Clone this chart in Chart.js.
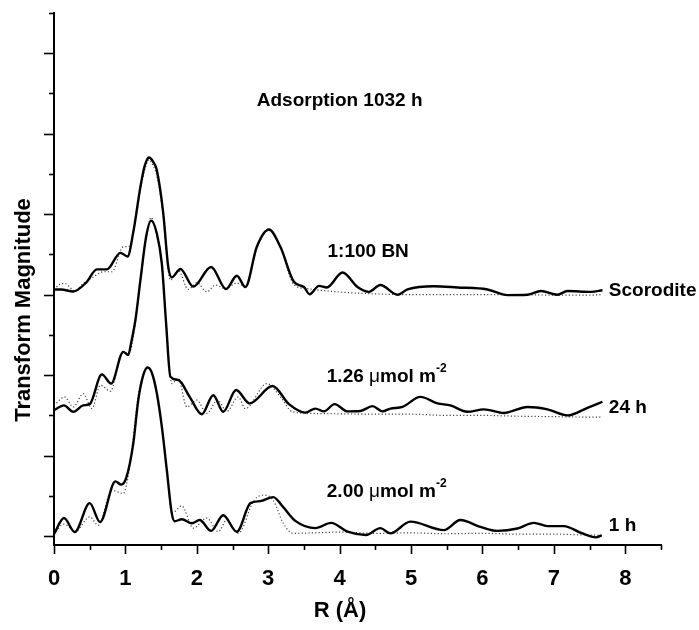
<!DOCTYPE html>
<html>
<head>
<meta charset="utf-8">
<script src="https://cdn.jsdelivr.net/npm/chart.js@4.4.1/dist/chart.umd.min.js"></script>
<style>
  body { margin: 0; background: #fff; }
</style>
</head>
<body>
<canvas id="grafico-ft" width="699" height="630"></canvas>
<script>
// R (Å) and stacked transform magnitude
const rScor   = [0, 0.1, 0.27, 0.45, 0.6, 0.74, 0.93, 1.03, 1.11, 1.21, 1.27, 1.33, 1.39, 1.44, 1.53, 1.6, 1.65, 1.77, 1.95, 2.2, 2.41, 2.56, 2.68, 2.84, 3.01, 3.17, 3.36, 3.5, 3.58, 3.71, 3.82, 4.04, 4.25, 4.41, 4.57, 4.81, 4.95, 5.32, 5.65, 6.07, 6.35, 6.63, 6.82, 7.05, 7.19, 7.52, 7.68];
const magScor = [6.13, 6.13, 6.08, 6.3, 6.63, 6.63, 7.04, 6.95, 7.55, 8.68, 9.2, 9.41, 9.3, 9.09, 8.02, 6.69, 6.43, 6.64, 6.2, 6.69, 6.14, 6.47, 6.19, 7.19, 7.62, 7.19, 6.32, 6.19, 6.01, 6.22, 6.18, 6.55, 6.19, 6.07, 6.24, 6.0, 6.13, 6.21, 6.18, 6.13, 5.99, 6.0, 6.09, 6.0, 6.09, 6.07, 6.11];
const rScorFit   = [0, 0.08, 0.15, 0.29, 0.41, 0.55, 0.69, 0.81, 0.97, 1.05, 1.11, 1.21, 1.27, 1.33, 1.39, 1.44, 1.53, 1.6, 1.63, 1.74, 1.88, 2.0, 2.14, 2.26, 2.4, 2.56, 2.68, 2.84, 3.01, 3.17, 3.36, 3.54, 3.97, 4.5, 5.0, 5.5, 6.0, 6.5, 7.0, 7.5, 7.68];
const fitScor    = [6.13, 6.26, 6.28, 6.1, 6.28, 6.44, 6.57, 6.57, 7.19, 7.2, 7.55, 8.6, 9.1, 9.35, 9.2, 8.95, 7.95, 6.6, 6.36, 6.61, 6.13, 6.3, 6.07, 6.24, 6.15, 6.29, 6.2, 7.15, 7.6, 7.17, 6.25, 6.15, 6.07, 6.02, 6.0, 6.0, 6.0, 6.0, 5.99, 5.99, 6.0];

const r24h   = [0, 0.14, 0.27, 0.41, 0.5, 0.67, 0.8, 0.97, 1.04, 1.08, 1.14, 1.21, 1.29, 1.36, 1.44, 1.51, 1.57, 1.63, 1.74, 1.9, 2.07, 2.23, 2.37, 2.55, 2.74, 3.06, 3.29, 3.52, 3.66, 3.78, 3.93, 4.11, 4.29, 4.46, 4.6, 4.71, 4.88, 5.13, 5.37, 5.55, 5.79, 6.02, 6.3, 6.63, 6.91, 7.19, 7.47, 7.68];
const mag24h = [3.13, 3.25, 3.09, 3.25, 3.28, 4.02, 3.79, 4.58, 4.5, 4.8, 5.37, 6.36, 7.44, 7.84, 7.52, 6.77, 5.28, 3.96, 3.88, 3.46, 3.03, 3.5, 3.09, 3.63, 3.3, 3.73, 3.28, 3.07, 3.17, 3.1, 3.28, 3.1, 3.11, 3.23, 3.1, 3.17, 3.21, 3.46, 3.3, 3.25, 3.09, 3.15, 3.06, 3.21, 3.15, 3.0, 3.19, 3.34];
const r24hFit = [0, 0.15, 0.27, 0.41, 0.53, 0.65, 0.79, 0.95, 1.05, 1.14, 1.21, 1.29, 1.36, 1.43, 1.51, 1.57, 1.65, 1.74, 1.86, 2.0, 2.14, 2.29, 2.42, 2.58, 2.68, 2.98, 3.18, 3.33, 3.6, 4.0, 4.5, 5.0, 5.5, 6.0, 6.5, 7.0, 7.4, 7.68];
const fit24h  = [3.25, 3.46, 3.21, 3.54, 3.17, 3.75, 3.6, 4.54, 4.55, 5.3, 6.4, 7.4, 7.92, 7.55, 6.8, 5.3, 3.79, 3.92, 3.21, 3.38, 3.05, 3.38, 3.1, 3.46, 3.17, 3.79, 3.44, 3.1, 3.05, 3.04, 3.03, 3.03, 3.0, 3.0, 2.98, 2.97, 2.96, 2.96];

const r1h   = [0, 0.14, 0.29, 0.5, 0.645, 0.86, 0.94, 1.01, 1.11, 1.18, 1.25, 1.31, 1.37, 1.44, 1.51, 1.58, 1.65, 1.69, 1.79, 1.93, 2.04, 2.2, 2.37, 2.56, 2.75, 2.89, 3.07, 3.21, 3.38, 3.66, 3.88, 4.11, 4.37, 4.57, 4.71, 4.99, 5.46, 5.69, 5.97, 6.21, 6.49, 6.72, 6.91, 7.14, 7.38, 7.59, 7.67];
const mag1h = [0.05, 0.45, 0.1, 0.82, 0.35, 1.36, 1.28, 1.44, 2.3, 3.38, 4.0, 4.19, 4.06, 3.55, 2.72, 1.64, 0.56, 0.37, 0.42, 0.32, 0.4, 0.13, 0.52, 0.11, 0.82, 0.87, 0.97, 0.72, 0.38, 0.2, 0.33, 0.11, 0.03, 0.2, 0.07, 0.36, 0.15, 0.4, 0.23, 0.13, 0.19, 0.33, 0.25, 0.25, 0.08, -0.03, 0.02];
const r1hFit = [0, 0.14, 0.3, 0.5, 0.62, 0.81, 0.97, 1.07, 1.18, 1.25, 1.31, 1.37, 1.44, 1.51, 1.58, 1.65, 1.79, 1.95, 2.14, 2.3, 2.42, 2.58, 2.8, 2.94, 3.07, 3.21, 3.35, 3.6, 4.0, 4.5, 5.0, 5.5, 6.0, 6.5, 7.0, 7.4, 7.67];
const fit1h  = [0.05, 0.3, 0.12, 0.48, 0.27, 1.14, 1.06, 1.85, 3.5, 4.0, 4.2, 4.06, 3.55, 2.72, 1.64, 0.57, 0.75, 0.2, 0.45, 0.11, 0.4, 0.07, 0.89, 1.02, 0.89, 0.32, 0.07, 0.08, 0.1, 0.07, 0.08, 0.06, 0.07, 0.05, 0.05, 0.03, 0.02];

const FONT = '"Liberation Sans", Arial, Helvetica, sans-serif';

function pts(rs, vs) {
  return rs.map((r, i) => ({ x: r, y: vs[i] }));
}

function solid(rs, vs) {
  return { data: pts(rs, vs), borderColor: '#000', borderWidth: 2.4, pointRadius: 0, cubicInterpolationMode: 'monotone', order: 1 };
}
function dotted(rs, vs) {
  return { data: pts(rs, vs), borderColor: '#444', borderWidth: 1.2, borderDash: [1.2, 2.2], pointRadius: 0, cubicInterpolationMode: 'monotone', order: 2 };
}

// text labels placed in data units (R, magnitude)
const notas = [
  { parts: [['Adsorption 1032 h']], x: 4.0, y: 10.81, align: 'center' },
  { parts: [['1:100 BN']], x: 3.83, y: 7.06 },
  { parts: [['1.26 '], ['\u03bc', 'normal'], ['mol m'], ['-2', 'sup']], x: 3.82, y: 3.97 },
  { parts: [['2.00 '], ['\u03bc', 'normal'], ['mol m'], ['-2', 'sup']], x: 3.82, y: 1.1 },
  { parts: [['Scorodite']], x: 7.77, y: 6.11 },
  { parts: [['24 h']], x: 7.77, y: 3.18 },
  { parts: [['1 h']], x: 7.77, y: 0.27 }
];

const eixos = {
  id: 'eixos',
  afterDraw(chart) {
    const { ctx, chartArea, scales } = chart;
    const sx = scales.x, sy = scales.y;
    ctx.save();
    ctx.strokeStyle = '#000';
    ctx.lineWidth = 1.6;
    // y ticks
    for (let v = 0; v <= 13; v++) {
      const py = Math.round(sy.getPixelForValue(v)) + 0.5;
      const len = v % 2 === 0 ? 10 : 5;
      ctx.beginPath();
      ctx.moveTo(chartArea.left, py);
      ctx.lineTo(chartArea.left - len, py);
      ctx.stroke();
    }
    // x ticks
    for (let k = 0; k <= 17; k++) {
      const v = k / 2;
      const px = Math.round(sx.getPixelForValue(v)) + 0.5;
      const len = k % 2 === 0 ? 9 : 5;
      ctx.beginPath();
      ctx.moveTo(px, chartArea.bottom);
      ctx.lineTo(px, chartArea.bottom + len);
      ctx.stroke();
    }

    ctx.fillStyle = '#000';
    ctx.textBaseline = 'middle';
    // axis titles
    ctx.font = 'bold 22px ' + FONT;
    ctx.textAlign = 'center';
    ctx.fillText('R (\u00c5)', 340, 611);
    ctx.save();
    ctx.translate(24, 310);
    ctx.rotate(-Math.PI / 2);
    ctx.fillText('Transform Magnitude', 0, 0);
    ctx.restore();

    // annotations
    ctx.textAlign = 'left';
    notas.forEach(n => {
      const fontFor = p => p[1] === 'sup' ? 'bold 12px ' + FONT : (p[1] === 'normal' ? '19px ' + FONT : 'bold 19px ' + FONT);
      let w = 0;
      n.parts.forEach(p => { ctx.font = fontFor(p); w += ctx.measureText(p[0]).width; });
      let px = sx.getPixelForValue(n.x);
      const py = sy.getPixelForValue(n.y);
      if (n.align === 'center') px -= w / 2;
      n.parts.forEach(p => {
        ctx.font = fontFor(p);
        ctx.fillText(p[0], px, p[1] === 'sup' ? py - 8 : py);
        px += ctx.measureText(p[0]).width;
      });
    });
    ctx.restore();
  }
};

new Chart(document.getElementById('grafico-ft').getContext('2d'), {
  type: 'line',
  data: {
    datasets: [
      dotted(rScorFit, fitScor), solid(rScor, magScor),
      dotted(r24hFit, fit24h), solid(r24h, mag24h),
      dotted(r1hFit, fit1h), solid(r1h, mag1h)
    ]
  },
  options: {
    responsive: false,
    animation: false,
    devicePixelRatio: 1,
    layout: { padding: { top: 13, right: 38, left: 0, bottom: 0 } },
    plugins: { legend: { display: false }, tooltip: { enabled: false } },
    scales: {
      x: {
        type: 'linear', min: 0, max: 8.5,
        grid: { display: false, drawTicks: false },
        border: { display: true, color: '#000', width: 2 },
        ticks: {
          stepSize: 1, includeBounds: false, autoSkip: false, maxRotation: 0,
          padding: 21, color: '#000',
          font: { family: FONT, size: 22, weight: 'bold' }
        },
        afterFit: s => { s.height = 85; }
      },
      y: {
        min: -0.22, max: 13,
        grid: { display: false, drawTicks: false },
        border: { display: true, color: '#000', width: 2 },
        ticks: { display: false },
        afterFit: s => { s.width = 54; }
      }
    }
  },
  plugins: [eixos]
});
</script>
</body>
</html>
